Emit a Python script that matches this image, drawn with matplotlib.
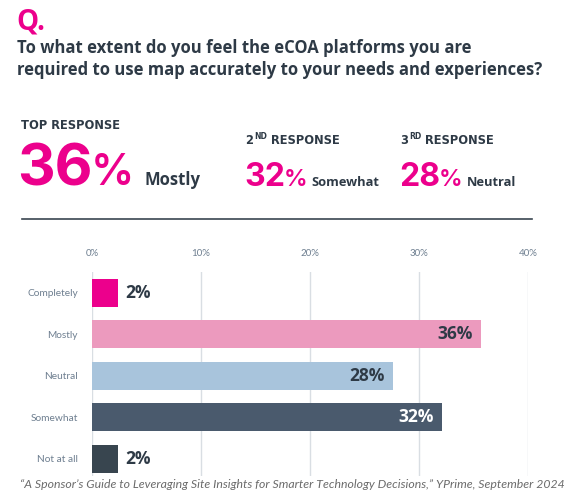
import matplotlib
matplotlib.use("Agg")
import matplotlib.pyplot as plt

# ---------------- data ----------------
categories = ["Completely", "Mostly", "Neutral", "Somewhat", "Not at all"]
values = [2.4, 35.7, 27.6, 32.1, 2.4]
bar_colors = ["#EC008C", "#EC9ABE", "#A8C4DC", "#4A5A6D", "#38454F"]
label_colors = ["#2E3A46", "#2E3A46", "#2E3A46", "#FFFFFF", "#2E3A46"]
x_ticks = [0, 10, 20, 30, 40]
x_tick_labels = ["0%", "10%", "20%", "30%", "40%"]

question_mark = "Q."
question_lines = ["To what extent do you feel the eCOA platforms you are",
                  "required to use map accurately to your needs and experiences?"]
top_label = "TOP RESPONSE"
top_value = "36"
top_name = "Mostly"
second_value = "32"
second_name = "Somewhat"
third_value = "28"
third_name = "Neutral"
footnote = ("\u201cA Sponsor\u2019s Guide to Leveraging Site Insights for Smarter "
            "Technology Decisions,\u201d YPrime, September 2024")

PINK = "#EC008C"
DARK = "#2E3A46"
W, H = 572, 501

fig = plt.figure(figsize=(W / 100, H / 100), dpi=100)
fig.patch.set_facecolor("white")
renderer = fig.canvas.get_renderer()


def T(x, y, s, **kw):
    """place text using pixel coords measured from top-left"""
    kw.setdefault("va", "baseline")
    return fig.text(x / W, 1 - y / H, s, **kw)


def right_px(t):
    bb = t.get_window_extent(renderer)
    return bb.x1


HF = "Open Sans"
NF = "Inter"
LF = "DejaVu Sans"
# header
T(16, 29.5, question_mark, fontsize=20, fontweight="bold", color=PINK, family=HF)
T(17, 53, question_lines[0], fontsize=12.0, fontweight="bold", color=DARK, family=HF)
T(17, 75, question_lines[1], fontsize=12.0, fontweight="bold", color=DARK, family=HF)

# top response
T(21, 129, top_label, fontsize=8.3, fontweight="bold", color=DARK, family=LF)
t = T(17, 185, top_value, fontsize=42, fontweight="bold", color=PINK, family=NF)
T(right_px(t) - 2, 185, "%", fontsize=31, fontweight="semibold", color=PINK, family=NF)
T(145, 185, top_name, fontsize=12, fontweight="bold", color=DARK, family=HF)


def response(x, sup, value, name):
    a = T(x, 144, sup[0], fontsize=8.3, fontweight="bold", color=DARK, family=LF)
    b = T(right_px(a) + 1, 139.5, sup[1:], fontsize=5.5, fontweight="bold", color=DARK, family=LF)
    T(right_px(b) + 4, 144, "RESPONSE", fontsize=8.3, fontweight="bold", color=DARK, family=LF)
    n = T(x - 1, 186, value, fontsize=23, fontweight="bold", color=PINK, family=NF)
    p = T(right_px(n) - 1, 186, "%", fontsize=17, fontweight="semibold", color=PINK, family=NF)
    T(right_px(p) + 4, 186, name, fontsize=9.3, fontweight="bold", color=DARK, family=HF)


response(245, "2ND", second_value, second_name)
response(400, "3RD", third_value, third_name)

# separator line
fig.add_artist(plt.Line2D([22 / W, 532 / W], [1 - 219 / H, 1 - 219 / H],
                          color="#3A4550", lw=1.2, transform=fig.transFigure))

# ---------------- bar chart ----------------
ax = fig.add_axes([92 / W, 1 - 476 / H, 436.3 / W, 204 / H])
ypos = list(range(len(categories)))
bars = ax.barh(ypos, values, height=0.675, color=bar_colors, zorder=3)
ax.set_xlim(0, 40)
ax.set_ylim(4.41, -0.506)
ax.set_xticks(x_ticks)
ax.set_xticklabels(x_tick_labels)
ax.xaxis.tick_top()
ax.tick_params(axis="x", length=0, pad=10, labelsize=7, labelcolor="#6E7F90")
ax.set_yticks(ypos)
ax.set_yticklabels(categories)
ax.tick_params(axis="y", length=0, pad=10, labelsize=7.3, labelcolor="#6E7F90")
for lab in ax.get_xticklabels() + ax.get_yticklabels():
    lab.set_family("Lato")
ax.grid(axis="x", color="#D9DEE3", lw=1, zorder=0)
for s in ax.spines.values():
    s.set_visible(False)

for b, v, c in zip(bars, values, label_colors):
    txt = f"{v:.0f}%"
    y = b.get_y() + b.get_height() / 2
    if v > 10:
        ax.annotate(txt, (v, y), xytext=(-6, 0), textcoords="offset points",
                    ha="right", va="center", fontsize=12.5, fontweight="bold",
                    color=c, family=HF, zorder=4)
    else:
        ax.annotate(txt, (v, y), xytext=(5, 0), textcoords="offset points",
                    ha="left", va="center", fontsize=12.5, fontweight="bold",
                    color=c, family=HF, zorder=4)

# footnote
T(292, 484, footnote, fontsize=8.8, style="italic", color="#6B6B6B", family="Lato",
  ha="center", va="center")

fig.savefig("out.png", dpi=100, facecolor="white")
